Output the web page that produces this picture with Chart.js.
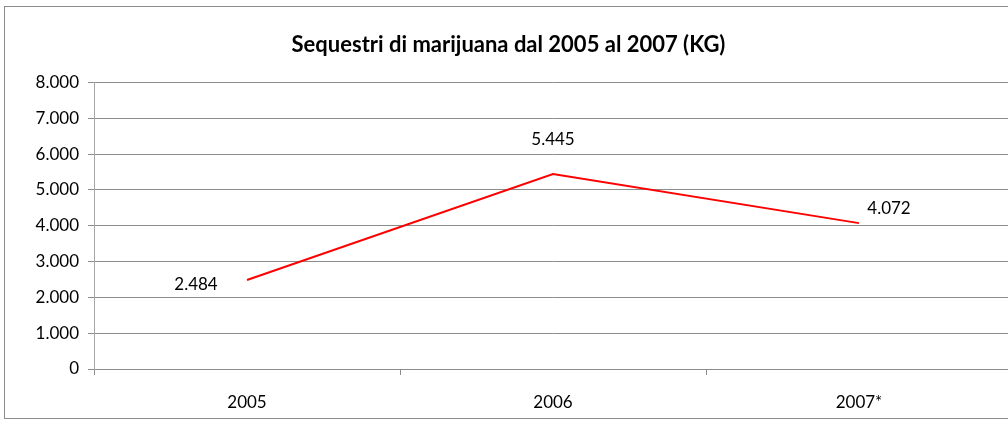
<!DOCTYPE html>
<html>
<head>
<meta charset="utf-8">
<script src="https://cdn.jsdelivr.net/npm/chart.js@4/dist/chart.umd.min.js"></script>
<style>
    html, body { margin: 0; padding: 0; background: #fff; overflow: hidden; width: 1008px; height: 421px; }
    #frame { position: absolute; left: 4px; top: 6px; width: 1030px; height: 411px; border: 1px solid #8c8c8c; }
    canvas { display: block; }
</style>
</head>
<body>
<div id="frame"><canvas id="seizureChart" width="1030" height="411"></canvas></div>
<script>
    // Data
    const years = ['2005', '2006', '2007*'];
    const seizuresKg = [2484, 5445, 4072];
    const yTicks = [0, 1000, 2000, 3000, 4000, 5000, 6000, 7000, 8000];

    const FONT = 'Lato, "Open Sans", sans-serif';

    function fmtIt(v) {
        return String(v).replace(/\B(?=(\d{3})+(?!\d))/g, '.');
    }

    // per-point label offsets, like the Excel label placement
    const labelOffsets = [[-51, 5], [0, -34], [30, -15]];

    const pointLabels = {
        id: 'pointLabels',
        afterDatasetsDraw(chart) {
            const ctx = chart.ctx;
            const meta = chart.getDatasetMeta(0);
            ctx.save();
            ctx.font = '17px ' + FONT;
            ctx.fillStyle = '#000';
            ctx.textAlign = 'center';
            ctx.textBaseline = 'middle';
            meta.data.forEach((pt, i) => {
                const off = labelOffsets[i];
                ctx.fillText(fmtIt(seizuresKg[i]), pt.x + off[0], pt.y + off[1]);
            });
            ctx.restore();
        }
    };

    const ctx = document.getElementById('seizureChart').getContext('2d');
    new Chart(ctx, {
        type: 'line',
        data: {
            labels: years,
            datasets: [{
                label: 'Sequestri (KG)',
                data: seizuresKg,
                borderColor: '#ff0000',
                borderWidth: 2,
                pointRadius: 0,
                tension: 0,
                fill: false
            }]
        },
        options: {
            responsive: false,
            animation: false,
            layout: { padding: { left: 0, right: 23, top: 0, bottom: 0 } },
            plugins: {
                legend: { display: false },
                tooltip: { enabled: false },
                title: {
                    display: true,
                    text: 'Sequestri di marijuana dal 2005 al 2007 (KG)',
                    color: '#000',
                    font: { family: FONT, size: 22, weight: 'bold', lineHeight: 1.2 },
                    padding: { top: 25, bottom: 24 }
                }
            },
            scales: {
                x: {
                    offset: true,
                    grid: {
                        offset: true,
                        drawOnChartArea: false,
                        drawTicks: true,
                        tickLength: 6,
                        color: '#8c8c8c'
                    },
                    border: { display: true, color: '#8c8c8c' },
                    ticks: {
                        color: '#000',
                        font: { family: FONT, size: 17 },
                        padding: 17,
                        maxRotation: 0
                    },
                    afterFit(scale) { scale.height = 49; }
                },
                y: {
                    min: 0,
                    max: 8000,
                    afterBuildTicks(scale) { scale.ticks = yTicks.map(v => ({ value: v })); },
                    grid: {
                        color: '#8c8c8c',
                        drawTicks: true,
                        tickLength: 6
                    },
                    border: { display: true, color: '#a6a6a6' },
                    ticks: {
                        color: '#000',
                        font: { family: FONT, size: 17 },
                        padding: 9,
                        callback: (v) => fmtIt(v)
                    },
                    afterFit(scale) { scale.width = 89; }
                }
            }
        },
        plugins: [pointLabels]
    });
</script>
</body>
</html>
